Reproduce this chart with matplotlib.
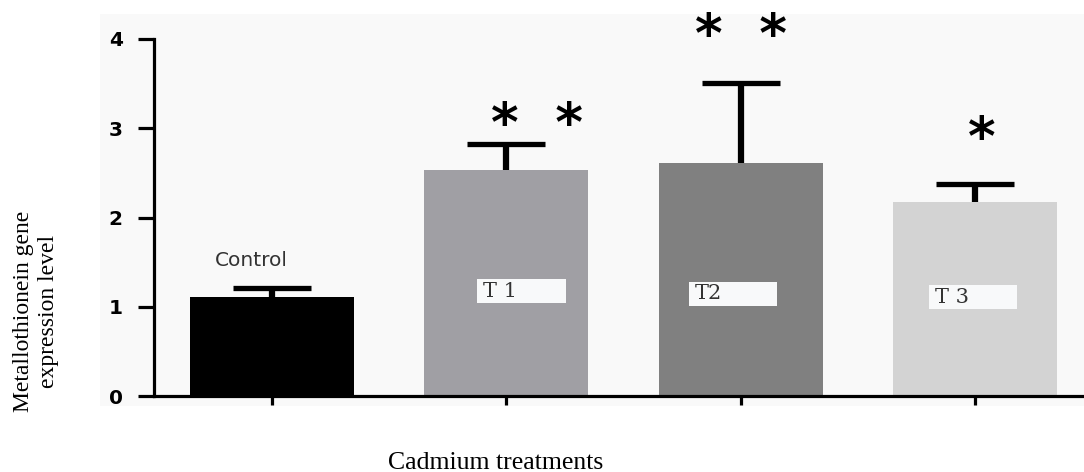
import matplotlib
matplotlib.use("Agg")
import matplotlib.pyplot as plt
from matplotlib.patches import Rectangle

# data
groups = ["Control", "T 1", "T2", "T 3"]
expression = [1.11, 2.53, 2.61, 2.17]
expression_err = [0.10, 0.29, 0.90, 0.21]
stars = ["", "*  *", "*  *", "*"]
star_level = [None, 3.02, 4.02, 2.87]
y_ticks = [0, 1, 2, 3, 4]

bar_colors = ["#000000", "#a09fa4", "#808080", "#d3d3d3"]


def main():
    fig = plt.figure(figsize=(10.84, 4.72), dpi=100)

    # light panel behind the graph
    fig.patches.append(Rectangle((100 / 1084, 1 - 406 / 472), 984 / 1084, 392 / 472,
                                 transform=fig.transFigure, facecolor="#f9f9f9",
                                 edgecolor="none", zorder=-5))

    ax = fig.add_axes([154 / 1084, 1 - 396 / 472, 930 / 1084, 357 / 472])
    ax.set_facecolor("none")

    x = list(range(len(groups)))
    ax.bar(x, expression, width=0.70, color=bar_colors, zorder=2)
    _, caps, _ = ax.errorbar(x, expression, yerr=[[0] * len(x), expression_err],
                             fmt="none", ecolor="black", elinewidth=4.5, capsize=28,
                             capthick=3.8, zorder=3)
    # only the upper cap is shown
    for cap in caps:
        if list(cap.get_ydata()) == expression:
            cap.set_visible(False)

    ax.set_xlim(-0.504, 3.466)
    ax.set_ylim(0, 4)
    ax.set_yticks(y_ticks)
    ax.set_xticks(x)
    ax.set_xticklabels([])

    for side in ["top", "right"]:
        ax.spines[side].set_visible(False)
    for side in ["left", "bottom"]:
        ax.spines[side].set_linewidth(2.3)
    ax.tick_params(axis="y", length=11.5, width=2.3, pad=11, labelsize=14.5)
    ax.tick_params(axis="x", length=6.5, width=2.3)
    for lab in ax.get_yticklabels():
        lab.set_fontweight("heavy")
        lab.set_family("DejaVu Sans")

    # label above the control bar
    ax.text(x[0] - 0.087, 1.52, groups[0], ha="center", va="center",
            fontsize=14.5, color="#333333", family="DejaVu Sans")

    # white boxes with treatment names inside the bars
    box_left = [None, -0.124, -0.222, -0.196]
    box_bottom = [None, 1.04, 1.01, 0.97]
    for i in range(1, len(groups)):
        ax.add_patch(Rectangle((x[i] + box_left[i], box_bottom[i]), 0.378, 0.27,
                               facecolor="#f8f9fa", edgecolor="none", zorder=4))
        ax.text(x[i] + box_left[i] + 0.025, box_bottom[i] + 0.135, groups[i],
                ha="left", va="center", fontsize=15, color="#333333",
                family="DejaVu Serif", zorder=5)

    # significance marks
    star_shift = [0, 0.13, 0.0, 0.03]
    for i in range(1, len(groups)):
        ax.text(x[i] + star_shift[i], star_level[i], stars[i], ha="center",
                va="center", fontsize=38, fontweight="bold", family="DejaVu Sans",
                clip_on=False, zorder=5)

    fig.text(36 / 1084, 1 - 311 / 472, "Metallothionein gene\nexpression level",
             rotation=90, ha="center", va="center", multialignment="center",
             fontsize=17, family="Liberation Serif", linespacing=1.3)
    fig.text(496 / 1084, 1 - 463 / 472, "Cadmium treatments", ha="center",
             va="center", fontsize=18.5, family="Liberation Serif")

    fig.savefig("out.png", dpi=100)


if __name__ == "__main__":
    main()
